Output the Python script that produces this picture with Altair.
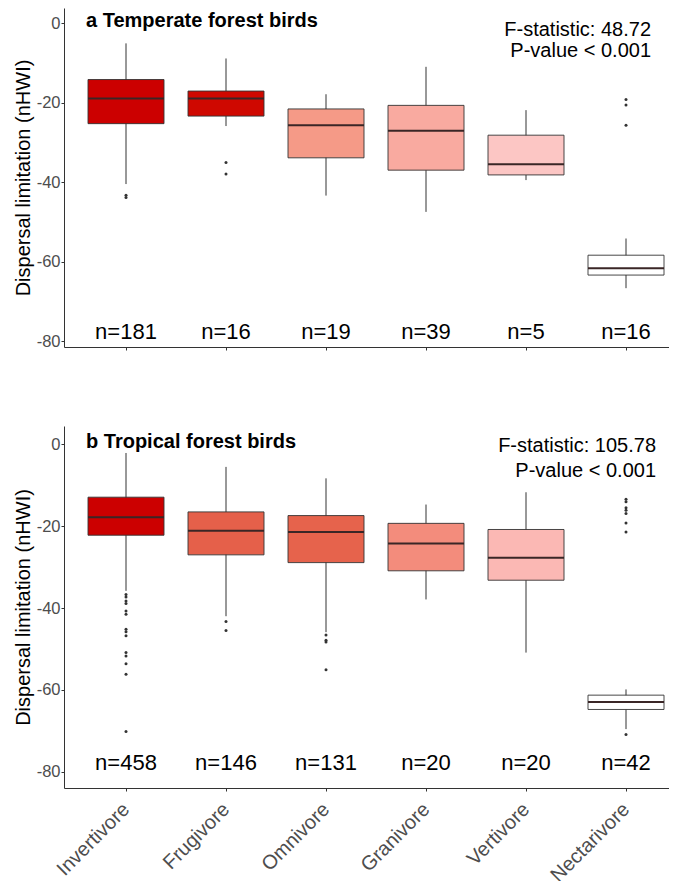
import json
import altair as alt
import pandas as pd

FONT = "Liberation Sans"

categories = ["Invertivore", "Frugivore", "Omnivore", "Granivore", "Vertivore", "Nectarivore"]

# ---- Panel a: Temperate forest birds ----
a_lower = [-40.5, -25.9, -43.4, -47.5, -39.5, -66.7]
a_q1 = [-25.3, -23.4, -33.9, -37.0, -38.2, -63.4]
a_median = [-19.0, -19.0, -25.7, -27.1, -35.5, -61.7]
a_q3 = [-14.2, -17.1, -21.6, -20.7, -28.2, -58.4]
a_upper = [-5.1, -8.9, -17.9, -11.0, -21.9, -54.2]
a_n = [181, 16, 19, 39, 5, 16]
a_fill = ["#CC0000", "#CF0800", "#F59A87", "#F9AAA0", "#FCC6C4", "#FFFFFF"]
a_out_cat = ["Invertivore", "Invertivore", "Frugivore", "Frugivore",
             "Nectarivore", "Nectarivore", "Nectarivore"]
a_out_val = [-43.3, -43.9, -35.1, -38.0, -19.2, -20.6, -25.7]
a_title = "a Temperate forest birds"
a_stats = ["F-statistic: 48.72", "P-value < 0.001"]

# ---- Panel b: Tropical forest birds ----
b_lower = [-35.8, -42.0, -45.9, -37.9, -50.9, -69.6]
b_q1 = [-22.2, -27.0, -28.9, -30.9, -33.2, -64.8]
b_median = [-17.8, -21.1, -21.4, -24.2, -27.7, -63.0]
b_q3 = [-12.9, -16.5, -17.4, -19.3, -20.8, -61.3]
b_upper = [-2.1, -5.5, -8.3, -14.7, -11.7, -59.9]
b_n = [458, 146, 131, 20, 20, 42]
b_fill = ["#CC0000", "#E5604A", "#E6634C", "#F38C7C", "#FBB8B4", "#FFFFFF"]
b_out_cat = (["Invertivore"] * 14 + ["Frugivore"] * 2 + ["Omnivore"] * 4 + ["Nectarivore"] * 8)
b_out_val = [-36.7, -37.3, -38.3, -38.9, -40.7, -41.5, -45.2, -45.8, -46.8, -50.9, -51.7, -53.6, -56.2, -70.2,
             -43.3, -45.5,
             -46.6, -47.9, -48.3, -55.1,
             -13.4, -14.0, -15.5, -16.1, -16.9, -19.2, -21.4, -70.9]
b_title = "b Tropical forest birds"
b_stats = ["F-statistic: 105.78", "P-value < 0.001"]

y_ticks = [0, -20, -40, -60, -80]
label_expr = json.dumps(categories) + "[datum.value - 1]"


def make_panel(lower, q1, med, q3, upper, n, fill, out_cat, out_val, title, stats,
               ydomain, height, show_labels, stat_x, stat_y, title_y):
    box = pd.DataFrame({
        "cat": categories, "pos": [i + 1 for i in range(len(categories))],
        "lower": lower, "q1": q1, "median": med, "q3": q3, "upper": upper,
        "fill": fill, "label": [f"n={v}" for v in n], "ny": [-77.8] * len(categories),
    })
    outs = pd.DataFrame({"pos": [categories.index(c) + 1 for c in out_cat], "val": out_val})
    ttl = pd.DataFrame({"pos": [0.6], "val": [title_y], "text": [title]})
    st = pd.DataFrame({"pos": [stat_x, stat_x], "val": stat_y, "text": stats})

    xax = alt.Axis(values=[1, 2, 3, 4, 5, 6], labelExpr=label_expr, labels=show_labels,
                   title=None, grid=False, tickSize=3, labelAngle=-45, labelAlign="right",
                   labelBaseline="middle", labelFontSize=20, labelPadding=15,
                   labelColor="#4D4D4D", domainColor="#333333", tickColor="#333333",
                   labelFont=FONT, labelOverlap=False)
    xscale = alt.Scale(domain=[0.43, 6.38], nice=False, zero=False)
    yscale = alt.Scale(domain=ydomain, nice=False, zero=False)
    yax = alt.Axis(values=y_ticks, labelExpr="datum.value + ''",
                   title="Dispersal limitation (nHWI)", grid=False,
                   tickSize=3, labelFontSize=16.5, labelColor="#4D4D4D", labelFont=FONT,
                   titleFont=FONT, titleFontSize=20, titleFontWeight="normal",
                   titleColor="#000000", titlePadding=3, labelPadding=1,
                   domainColor="#333333", tickColor="#333333")

    def X():
        return alt.X("pos:Q", scale=xscale, axis=xax)

    def Y(f):
        return alt.Y(f"{f}:Q", scale=yscale, axis=yax)

    base = alt.Chart(box)
    whisk = base.mark_rule(color="#333333", strokeWidth=1).encode(x=X(), y=Y("lower"), y2="upper:Q")
    bars = base.mark_bar(size=76, stroke="#333333", strokeWidth=0.9).encode(
        x=X(), y=Y("q1"), y2="q3:Q", fill=alt.Fill("fill:N", scale=None))
    meds = base.mark_tick(orient="horizontal", size=76, thickness=2, color="#3A2626", opacity=1).encode(
        x=X(), y=Y("median"))
    ntext = base.mark_text(fontSize=22, font=FONT, color="#000000", baseline="middle").encode(
        x=X(), y=Y("ny"), text="label:N")
    pts = alt.Chart(outs).mark_circle(size=9, color="#333333", opacity=1).encode(x=X(), y=Y("val"))
    ttext = alt.Chart(ttl).mark_text(align="left", baseline="middle", fontSize=20, fontWeight="bold",
                                     font=FONT, color="#000000").encode(x=X(), y=Y("val"), text="text:N")
    stext = alt.Chart(st).mark_text(align="right", baseline="middle", fontSize=20, font=FONT,
                                    color="#000000").encode(x=X(), y=Y("val"), text="text:N")
    return alt.layer(whisk, bars, meds, pts, ntext, ttext, stext).properties(width=605, height=height)


pa = make_panel(a_lower, a_q1, a_median, a_q3, a_upper, a_n, a_fill, a_out_cat, a_out_val,
                a_title, a_stats, [-81.5, 3.8], 339, False, 6.25, [-1.8, -7.1], 0.5)
pb = make_panel(b_lower, b_q1, b_median, b_q3, b_upper, b_n, b_fill, b_out_cat, b_out_val,
                b_title, b_stats, [-84.0, 4.5], 362, True, 6.30, [-0.5, -6.5], 0.55)

chart = alt.vconcat(pa, pb, spacing=75).properties(
    padding={"left": 13, "top": 8, "right": 0, "bottom": 0}
).configure(font=FONT, background="white").configure_view(stroke=None)

chart.save("out.html", embed_options={"renderer": "svg", "actions": False})
